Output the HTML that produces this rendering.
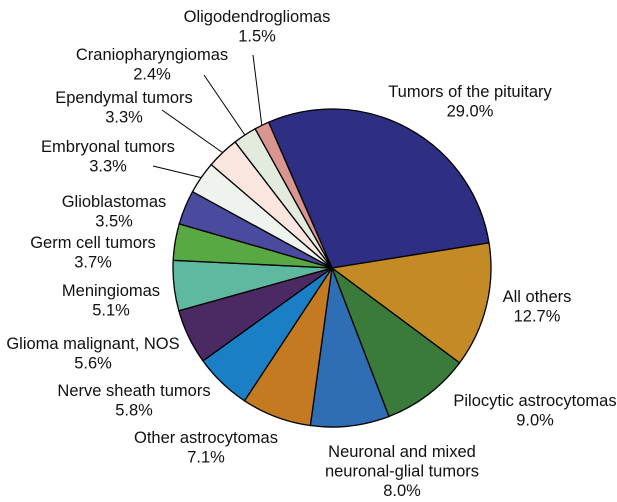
<!DOCTYPE html>
<html><head><meta charset="utf-8"><style>
body{margin:0;background:#fff}
svg text{font-family:"Liberation Sans",Arial,sans-serif;font-size:16.5px;fill:#111}
</style></head><body>
<svg id="chart" width="617" height="497" viewBox="0 0 617 497" xmlns="http://www.w3.org/2000/svg">
<g id="slices"></g>
<g id="leaders" stroke="#000" stroke-width="1"></g>
<g id="labels"></g>
</svg>
<script>
const categories=["Tumors of the pituitary","All others","Pilocytic astrocytomas","Neuronal and mixed|neuronal-glial tumors","Other astrocytomas","Nerve sheath tumors","Glioma malignant, NOS","Meningiomas","Germ cell tumors","Glioblastomas","Embryonal tumors","Ependymal tumors","Craniopharyngiomas","Oligodendrogliomas"];
const values=[29.0,12.7,9.0,8.0,7.1,5.8,5.6,5.1,3.7,3.5,3.3,3.3,2.4,1.5];
const colors=["#2e2f82","#c48a25","#3a7a3a","#2f6db5","#c47a20","#1a7fc4","#4b2a63","#5fb8a0","#58a844","#4a4a9e","#eef3ee","#fbe6df","#e3ebdd","#d9958f"];
const labelPos=[[470,97],[537,302],[535,406],[402,457],[206,443],[134,396],[93,349],[111,296],[93,248],[114,207],[108,152],[124,103],[152,60],[257,22]];
const leaderEnd=[null,null,null,null,null,null,null,null,null,null,[153,166],[162,110],[204,75],[253,55]];
const cx=332,cy=268,r=159,start=-23.5;
const NS="http://www.w3.org/2000/svg";
const total=values.reduce((a,b)=>a+b,0);
function pt(deg,rad){const a=(deg-90)*Math.PI/180;return [cx+rad*Math.cos(a),cy+rad*Math.sin(a)];}
let ang=start;
const gS=document.getElementById('slices'),gL=document.getElementById('leaders'),gT=document.getElementById('labels');
values.forEach((v,i)=>{
  const sweep=v/total*360,a0=ang,a1=ang+sweep;ang=a1;
  const p0=pt(a0,r),p1=pt(a1,r);
  const path=document.createElementNS(NS,'path');
  path.setAttribute('d',`M${cx},${cy}L${p0[0]},${p0[1]}A${r},${r} 0 ${sweep>180?1:0} 1 ${p1[0]},${p1[1]}Z`);
  path.setAttribute('fill',colors[i]);path.setAttribute('stroke','#000');path.setAttribute('stroke-width','1.3');
  
  
  gS.appendChild(path);
  if(leaderEnd[i]){const m=pt((a0+a1)/2,r);const l=document.createElementNS(NS,'line');
    l.setAttribute('x1',m[0]);l.setAttribute('y1',m[1]);l.setAttribute('x2',leaderEnd[i][0]);l.setAttribute('y2',leaderEnd[i][1]);
    
    
    gL.appendChild(l);}
  const lines=categories[i].split('|').concat([v.toFixed(1)+'%']);
  const t=document.createElementNS(NS,'text');
  t.setAttribute('text-anchor','middle');
  
  
  lines.forEach((s,k)=>{const ts=document.createElementNS(NS,'tspan');ts.setAttribute('x',labelPos[i][0]);ts.setAttribute('y',labelPos[i][1]+k*19.5);ts.textContent=s;t.appendChild(ts);});
  gT.appendChild(t);
});
</script>
</body></html>
